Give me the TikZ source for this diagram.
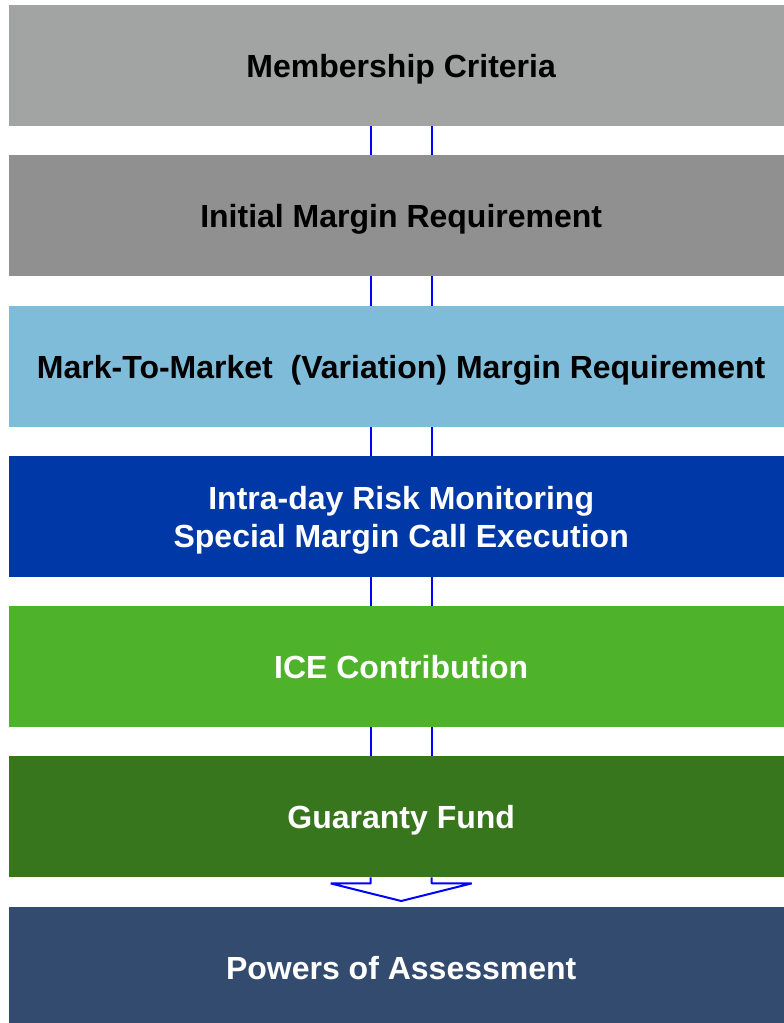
\documentclass[tikz,border=0pt]{standalone}
\usepackage{fontspec}
\setmainfont{Liberation Sans}
\begin{document}
\begin{tikzpicture}[x=1pt,y=-1pt,
  tier/.style={rectangle, draw=none, anchor=north west, minimum width=784pt,
    minimum height=121pt, inner sep=0pt, align=center,
    text height=22.6pt, text depth=0pt,
    font=\fontsize{32}{38}\selectfont\bfseries},
  link/.style={draw={rgb,255:red,0;green,0;blue,255}, line width=2pt}]
\definecolor{tierA}{RGB}{162,164,163}
\definecolor{tierB}{RGB}{143,144,143}
\definecolor{tierC}{RGB}{127,188,217}
\definecolor{tierD}{RGB}{0,56,168}
\definecolor{tierE}{RGB}{78,179,42}
\definecolor{tierF}{RGB}{56,118,29}
\definecolor{tierG}{RGB}{50,75,110}
\useasboundingbox (0,0) rectangle (784,1023);
\clip (0,0) rectangle (784,1023);
\fill[white] (0,0) rectangle (784,1023);

\node[tier, fill=tierA, text=black] (b1) at (9,5)   {Membership Criteria};
\node[tier, fill=tierB, text=black] (b2) at (9,155) {Initial Margin Requirement};
\node[tier, fill=tierC, text=black] (b3) at (9,306) {Mark-To-Market\ \ (Variation) Margin Requirement};
\node[tier, fill=tierD, text=white, text height=60.6pt] (b4) at (9,456) {Intra-day Risk Monitoring\\Special Margin Call Execution};
\node[tier, fill=tierE, text=white] (b5) at (9,606) {ICE Contribution};
\node[tier, fill=tierF, text=white] (b6) at (9,756) {Guaranty Fund};
\node[tier, fill=tierG, text=white] (b7) at (9,907) {Powers of Assessment};

% paired rails between consecutive tiers
\foreach \a/\b in {b1/b2,b2/b3,b3/b4,b4/b5,b5/b6}{
  \draw[link] ([xshift=-30.5pt]\a.south) -- ([xshift=-30.5pt]\b.north);
  \draw[link] ([xshift=30.5pt]\a.south) -- ([xshift=30.5pt]\b.north);
}

% open arrow into the last tier
\coordinate (tip) at ([yshift=6pt]b7.north);
\draw[link, line join=bevel] ([xshift=-30.5pt]b6.south) -- ++(0,6) -- ++(-40,0)
  -- (tip) -- ([xshift=70.5pt,yshift=-6pt]b6.south) -- ([xshift=30.5pt,yshift=-6pt]b6.south)
  -- ([xshift=30.5pt]b6.south);
\end{tikzpicture}
\end{document}
